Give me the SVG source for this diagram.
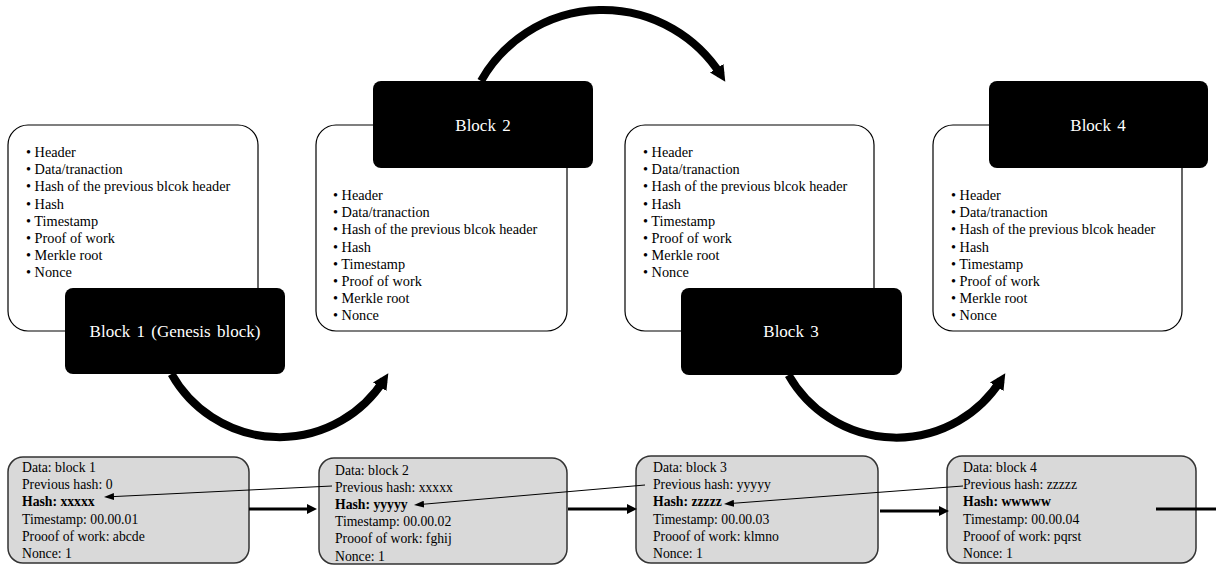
<svg xmlns="http://www.w3.org/2000/svg" width="1216" height="565" viewBox="0 0 1216 565">
<defs>
<style>
.card{fill:#fff;stroke:#000;stroke-width:1.2}
.blk{fill:#000}
.blkt{fill:#fff;font-family:"Liberation Serif",serif;font-size:17px;text-anchor:middle;word-spacing:2px}
.lst{fill:#000;font-family:"Liberation Serif",serif;font-size:14.3px}
.rec{fill:#d9d9d9;stroke:#333;stroke-width:1.5}
.rt{fill:#000;font-family:"Liberation Serif",serif;font-size:13.7px}
.b{font-weight:bold}
.curve{fill:none;stroke:#000;stroke-width:8;marker-end:url(#big)}
.thick{fill:none;stroke:#000;stroke-width:3;marker-end:url(#mid)}
.thin{fill:none;stroke:#000;stroke-width:1;marker-end:url(#small)}
</style>
<marker id="big" viewBox="0 0 16 16" refX="8" refY="8" markerWidth="16" markerHeight="16" markerUnits="userSpaceOnUse" orient="auto"><path d="M0,0 L16,8 L0,16 z" fill="#000"/></marker>
<marker id="mid" viewBox="0 0 10 10" refX="5" refY="5" markerWidth="10" markerHeight="10" markerUnits="userSpaceOnUse" orient="auto"><path d="M0,0 L10,5 L0,10 z" fill="#000"/></marker>
<marker id="small" viewBox="0 0 10 7" refX="5" refY="3.5" markerWidth="10" markerHeight="7" markerUnits="userSpaceOnUse" orient="auto"><path d="M0,0 L10,3.5 L0,7 z" fill="#000"/></marker>
</defs>
<rect width="1216" height="565" fill="#fff"/>

<g id="block1">
<rect class="card" x="8" y="125" width="250" height="206" rx="20"/>
<text class="lst" x="26" y="157"><tspan x="26">• Header</tspan><tspan x="26" dy="17.2">• Data/tranaction</tspan><tspan x="26" dy="17.2">• Hash of the previous blcok header</tspan><tspan x="26" dy="17.2">• Hash</tspan><tspan x="26" dy="17.2">• Timestamp</tspan><tspan x="26" dy="17.2">• Proof of work</tspan><tspan x="26" dy="17.2">• Merkle root</tspan><tspan x="26" dy="17.2">• Nonce</tspan></text>
<rect class="blk" x="65" y="288" width="220" height="86" rx="8"/>
<text class="blkt" x="175" y="337">Block 1 (Genesis block)</text>
</g>

<g id="block2">
<rect class="card" x="316" y="125" width="251" height="206" rx="20"/>
<text class="lst" x="333" y="200"><tspan x="333">• Header</tspan><tspan x="333" dy="17.2">• Data/tranaction</tspan><tspan x="333" dy="17.2">• Hash of the previous blcok header</tspan><tspan x="333" dy="17.2">• Hash</tspan><tspan x="333" dy="17.2">• Timestamp</tspan><tspan x="333" dy="17.2">• Proof of work</tspan><tspan x="333" dy="17.2">• Merkle root</tspan><tspan x="333" dy="17.2">• Nonce</tspan></text>
<rect class="blk" x="373" y="81" width="220" height="87" rx="8"/>
<text class="blkt" x="483" y="131">Block 2</text>
</g>

<g id="block3">
<rect class="card" x="625" y="125" width="249" height="206" rx="20"/>
<text class="lst" x="643" y="157"><tspan x="643">• Header</tspan><tspan x="643" dy="17.2">• Data/tranaction</tspan><tspan x="643" dy="17.2">• Hash of the previous blcok header</tspan><tspan x="643" dy="17.2">• Hash</tspan><tspan x="643" dy="17.2">• Timestamp</tspan><tspan x="643" dy="17.2">• Proof of work</tspan><tspan x="643" dy="17.2">• Merkle root</tspan><tspan x="643" dy="17.2">• Nonce</tspan></text>
<rect class="blk" x="681" y="288" width="221" height="87" rx="8"/>
<text class="blkt" x="791" y="337">Block 3</text>
</g>

<g id="block4">
<rect class="card" x="933" y="125" width="249" height="206" rx="20"/>
<text class="lst" x="951" y="200"><tspan x="951">• Header</tspan><tspan x="951" dy="17.2">• Data/tranaction</tspan><tspan x="951" dy="17.2">• Hash of the previous blcok header</tspan><tspan x="951" dy="17.2">• Hash</tspan><tspan x="951" dy="17.2">• Timestamp</tspan><tspan x="951" dy="17.2">• Proof of work</tspan><tspan x="951" dy="17.2">• Merkle root</tspan><tspan x="951" dy="17.2">• Nonce</tspan></text>
<rect class="blk" x="989" y="81" width="219" height="87" rx="8"/>
<text class="blkt" x="1098" y="131">Block 4</text>
</g>

<g id="record1">
<rect class="rec" x="8" y="457" width="241" height="106" rx="15"/>
<text class="rt" x="22" y="472"><tspan x="22">Data: block 1</tspan><tspan x="22" dy="17.2">Previous hash: 0</tspan><tspan x="22" dy="17.2" class="b">Hash: xxxxx</tspan><tspan x="22" dy="17.2">Timestamp:  00.00.01</tspan><tspan x="22" dy="17.2">Prooof of work:  abcde</tspan><tspan x="22" dy="17.2">Nonce: 1</tspan></text>
</g>

<g id="record2">
<rect class="rec" x="319" y="458" width="248" height="106" rx="15"/>
<text class="rt" x="335" y="474.5"><tspan x="335">Data: block 2</tspan><tspan x="335" dy="17.2">Previous hash: xxxxx</tspan><tspan x="335" dy="17.2" class="b">Hash: yyyyy</tspan><tspan x="335" dy="17.2">Timestamp:  00.00.02</tspan><tspan x="335" dy="17.2">Prooof of work:  fghij</tspan><tspan x="335" dy="17.2">Nonce: 1</tspan></text>
</g>

<g id="record3">
<rect class="rec" x="636" y="456" width="242" height="107" rx="15"/>
<text class="rt" x="653" y="472"><tspan x="653">Data: block 3</tspan><tspan x="653" dy="17.2">Previous hash: yyyyy</tspan><tspan x="653" dy="17.2" class="b">Hash: zzzzz</tspan><tspan x="653" dy="17.2">Timestamp:  00.00.03</tspan><tspan x="653" dy="17.2">Prooof of work:  klmno</tspan><tspan x="653" dy="17.2">Nonce: 1</tspan></text>
</g>

<g id="record4">
<rect class="rec" x="947" y="456" width="249" height="107" rx="15"/>
<text class="rt" x="963" y="472"><tspan x="963">Data: block 4</tspan><tspan x="963" dy="17.2">Previous hash: zzzzz</tspan><tspan x="963" dy="17.2" class="b">Hash: wwwww</tspan><tspan x="963" dy="17.2">Timestamp:  00.00.04</tspan><tspan x="963" dy="17.2">Prooof of work:  pqrst</tspan><tspan x="963" dy="17.2">Nonce: 1</tspan></text>
</g>

<g id="connectors">
<path class="curve" d="M171.5,374 A124,124 0 0 0 384,380"/>
<path class="curve" d="M481,81 A140,140 0 0 1 721,75"/>
<path class="curve" d="M788.5,375 A124,124 0 0 0 1001,380"/>
<line class="thick" x1="249" y1="509" x2="312" y2="509"/>
<line class="thick" x1="568" y1="509" x2="632" y2="509"/>
<line class="thick" x1="880" y1="511" x2="944" y2="511"/>
<line class="thick" x1="1156" y1="509" x2="1240" y2="509"/>
<line class="thin" x1="332" y1="486" x2="109" y2="496.8"/>
<line class="thin" x1="645" y1="485" x2="419" y2="504.6"/>
<line class="thin" x1="963" y1="486" x2="729" y2="503.6"/>
</g>
</svg>
